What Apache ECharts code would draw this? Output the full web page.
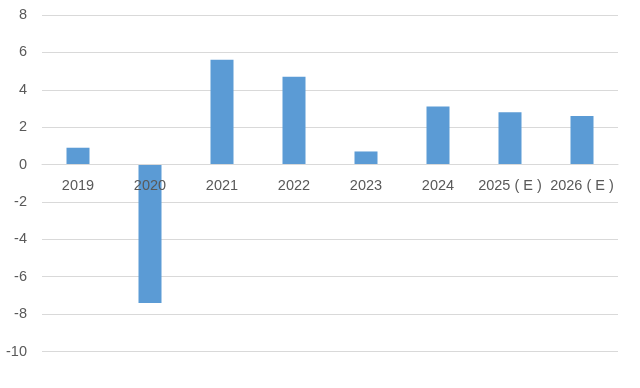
<!DOCTYPE html>
<html>
<head>
<meta charset="utf-8">
<script src="https://cdn.jsdelivr.net/npm/echarts@6/dist/echarts.min.js"></script>
<style>html,body{margin:0;padding:0;background:#fff;}#c{width:640px;height:388px;}</style>
</head>
<body>
<div id="c"></div>
<script>
var categories = ['2019', '2020', '2021', '2022', '2023', '2024', '2025 ( E )', '2026 ( E )'];
var values = [0.9, -7.4, 5.6, 4.7, 0.7, 3.1, 2.8, 2.6];
var yMin = -10, yMax = 8, yStep = 2;

var chart = echarts.init(document.getElementById('c'), null, {renderer: 'canvas'});
chart.setOption({
  animation: false,
  backgroundColor: '#ffffff',
  grid: {left: 42, right: 22, top: 15, bottom: 36.5, containLabel: false},
  xAxis: {
    type: 'category',
    data: categories,
    z: 5,
    offset: -187,
    axisLine: {show: true, onZero: false, lineStyle: {color: '#d9d9d9', width: 1}},
    axisTick: {show: false},
    axisLabel: {color: '#595959', fontSize: 14.5, fontFamily: 'Liberation Sans, Arial, sans-serif', margin: 14, interval: 0}
  },
  yAxis: {
    type: 'value',
    min: yMin, max: yMax, interval: yStep,
    axisLine: {show: false},
    axisTick: {show: false},
    splitLine: {lineStyle: {color: '#d9d9d9', width: 1}},
    axisLabel: {color: '#595959', fontSize: 14.5, fontFamily: 'Liberation Sans, Arial, sans-serif', margin: 15}
  },
  series: [{
    type: 'bar',
    data: values,
    barWidth: 23,
    itemStyle: {color: '#5b9bd5'}
  }]
});
</script>
</body>
</html>
